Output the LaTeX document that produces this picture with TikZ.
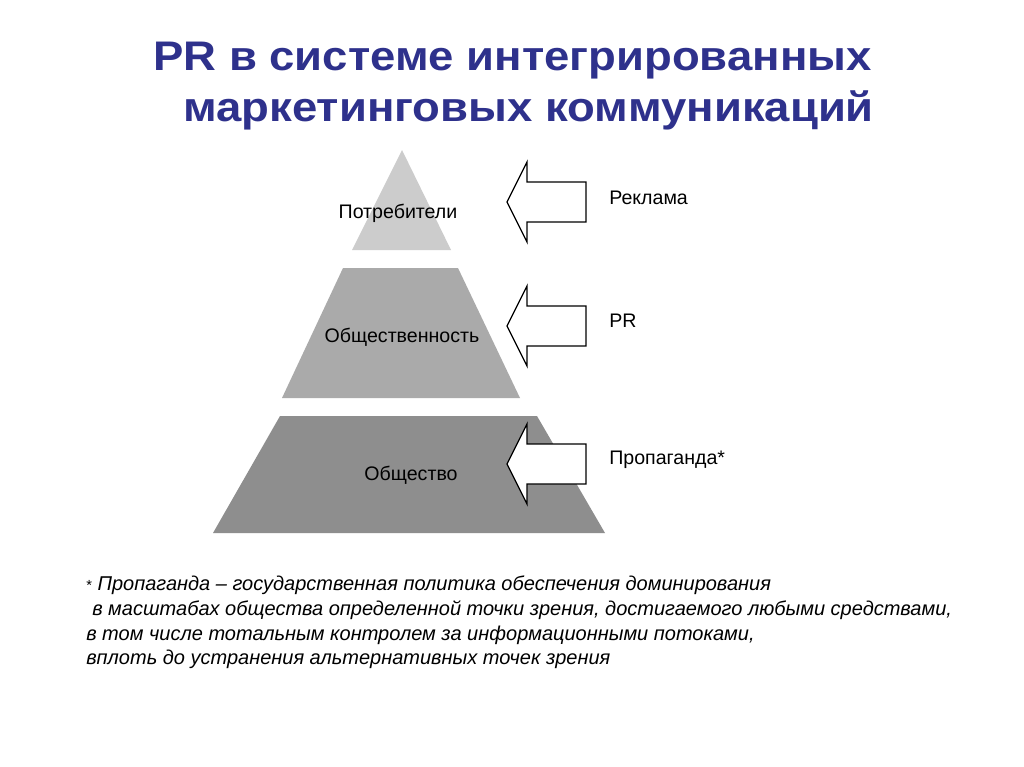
\documentclass[tikz,border=0pt]{standalone}
\usepackage{fontspec}
\setmainfont{Liberation Sans}
\newfontfamily\titlefont[FakeStretch=1.1]{Liberation Sans}
\definecolor{titleblue}{RGB}{46,49,140}
\definecolor{toplayer}{RGB}{204,204,204}
\definecolor{midlayer}{RGB}{170,170,170}
\definecolor{lowlayer}{RGB}{142,142,142}
\begin{document}
\begin{tikzpicture}[x=0.75pt, y=-0.75pt, line join=miter,
    titletext/.style={anchor=base west, inner sep=0pt, text=titleblue,
      font=\titlefont\fontsize{31}{36}\selectfont\bfseries},
    lbl/.style={inner sep=0pt, font=\fontsize{14.7}{17}\selectfont},
    note/.style={anchor=base west, inner sep=0pt,
      font=\itshape\fontsize{15}{18}\selectfont},
    blockarrow/.style={draw=black, fill=white, line width=0.9pt}]
    \useasboundingbox[fill=white] (0,0) rectangle (1024,767);
    % title
    \node[titletext] (title1) at (153,70) {PR в системе интегрированных};
    \node[titletext] (title2) at (183,122) {маркетинговых коммуникаций};
    % pyramid
    \fill[toplayer] (402,150) -- (451,250) -- (352,250) -- cycle;
    \fill[midlayer] (343,268) -- (458,268) -- (520,398) -- (282,398) -- cycle;
    \fill[lowlayer] (280,416) -- (537,416) -- (605,533) -- (213,533) -- cycle;
    \node[lbl] (consumers) at (398,213) {Потребители};
    \node[lbl] (public) at (402,337) {Общественность};
    \node[lbl] (society) at (411,475) {Общество};
    % arrows
    \foreach \y in {202,326,464}
      \draw[blockarrow] (507,\y) -- (527,\y-40) -- (527,\y-20) -- (586,\y-20)
        -- (586,\y+20) -- (527,\y+20) -- (527,\y+40) -- cycle;
    \node[lbl, anchor=west] (ads) at (609,198) {Реклама};
    \node[lbl, anchor=west] (pr) at (609,321) {PR};
    \node[lbl, anchor=west] (propaganda) at (609,460) {Пропаганда*};
    % footnote
    \node[note] (note1) at (86,590) {{\fontsize{11}{12}\selectfont\upshape*} Пропаганда – государственная политика обеспечения доминирования};
    \node[note] (note2) at (92,615) {в масштабах общества определенной точки зрения, достигаемого любыми средствами,};
    \node[note] (note3) at (86,640) {в том числе тотальным контролем за информационными потоками,};
    \node[note] (note4) at (86,664) {вплоть до устранения альтернативных точек зрения};
\end{tikzpicture}
\end{document}
